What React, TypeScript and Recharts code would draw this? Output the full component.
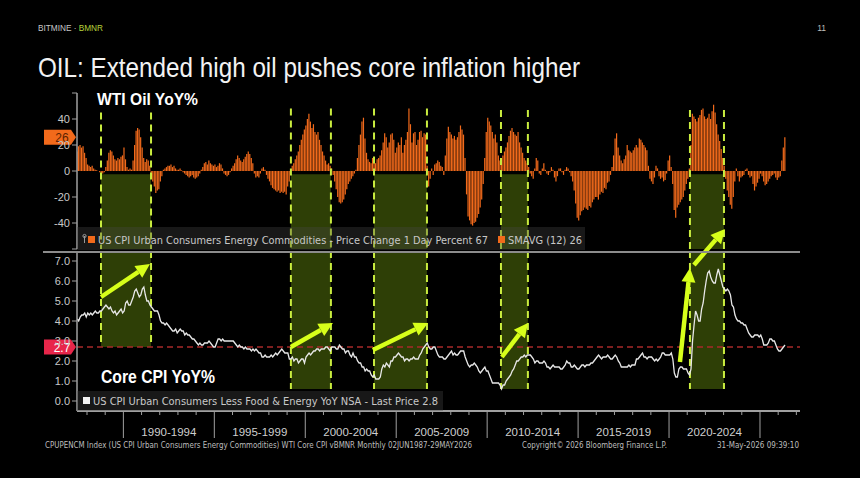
import React from 'react'
import {
  ComposedChart, Bar, Line, XAxis, YAxis, ReferenceArea, ReferenceLine,
} from 'recharts'

// Monthly data, Jun 1987 .. May 2026
const START_YEAR = 1987
const START_MONTH = 6

// US CPI Energy Commodities YoY % (orange bars)
const OIL_YOY = [
  15, 19, 20, 18, 19, 14, 10, // 1987 (Jun-Dec)
  5, 4, 3, 4, 2, 1, 0.5, 0, -1, -2, -2, -1, // 1988
  3, 8, 14, 16, 15, 12, 9, 8, 10, 9, 11, 12, // 1989
  18, 9, 3, 1, 2, 1, 8, 20, 31, 33, 32, 26, // 1990
  18, 10, 7, 9, 8, 4, -3, -8, -12, -17, -15, -14, // 1991
  -8, -4, 1, 2, 3, 4, 4, 5, 3, 4, 2, 1, // 1992
  1, 2, 0.5, -1, -2, -3, -4, -5, -4, -3, -5, -6, // 1993
  -5, -4, -2, 1, 3, 6, 7, 5, 8, 6, 5, 4, // 1994
  5, 3, 4, 6, 5, 2, -2, -3, -4, -3, -1, 2, // 1995
  4, 6, 9, 12, 10, 8, 7, 9, 11, 13, 15, 13, // 1996
  10, 6, -2, -5, -4, -5, -2, 2, 3, 1, -3, -6, // 1997
  -8, -11, -13, -14, -15, -16, -15, -17, -16, -17, -16, -18, // 1998
  -12, -8, 0, 4, 6, 9, 12, 15, 20, 24, 28, 32, // 1999
  35, 40, 44, 38, 33, 36, 30, 28, 30, 24, 20, 15, // 2000
  12, 8, 5, 6, 4, 2, -3, -8, -14, -20, -24, -25, // 2001
  -24, -22, -18, -14, -10, -8, -6, -4, -2, 1, 10, 20, // 2002
  28, 38, 41, 25, 14, 9, 7, 6, 10, 8, 6, 9, // 2003
  10, 12, 16, 22, 29, 26, 18, 22, 28, 29, 24, 14, // 2004
  18, 22, 20, 26, 14, 20, 24, 30, 48, 36, 22, 29, // 2005
  30, 20, 24, 30, 31, 26, 29, 28, 4, -12, -6, 2, // 2006
  -3, 5, 6, 8, 7, 4, 3, -3, 12, 25, 34, 30, // 2007
  28, 25, 27, 24, 26, 30, 35, 32, 28, 10, -18, -35, // 2008
  -38, -41, -42, -40, -39, -36, -33, -28, -22, -10, 10, 30, // 2009
  41, 38, 35, 30, 25, 28, 22, 12, 8, 10, 12, 15, // 2010
  18, 22, 27, 31, 33, 30, 28, 27, 30, 22, 18, 14, // 2011
  10, 8, 6, 3, -2, -4, -6, 2, 10, 8, -2, -3, // 2012
  2, 6, 1, -2, -3, -1, 3, 1, -5, -8, -4, 2, // 2013
  2, -1, -3, 1, 3, 2, -1, -4, -8, -15, -25, -36, // 2014
  -38, -34, -31, -30, -28, -29, -30, -27, -28, -24, -22, -20, // 2015
  -20, -22, -18, -16, -17, -13, -14, -9, -8, -3, 3, 12, // 2016
  25, 29, 18, 12, 8, 6, 9, 12, 20, 16, 15, 14, // 2017
  16, 18, 20, 18, 25, 24, 22, 20, 18, 16, 4, -6, // 2018
  -8, -10, -5, 4, 2, -4, -6, -5, -8, -7, -2, 8, // 2019
  12, 3, -10, -30, -36, -28, -26, -24, -22, -20, -15, -10, // 2020
  -6, 2, 20, 44, 42, 40, 38, 41, 43, 47, 48, 42, // 2021
  40, 41, 44, 40, 46, 51, 45, 36, 28, 23, 17, 10, // 2022
  4, -6, -15, -20, -26, -29, -20, -8, 2, -4, -8, -5, // 2023
  -4, -3, 1, 2, -3, -5, -4, -10, -15, -12, -9, -6, // 2024
  -2, -4, -8, -11, -10, -8, -6, -4, -3, -2, -5, -7, // 2025
  -5, -4, 8, 18, 26, // 2026 (Jan-May)
]

// US CPI Less Food & Energy YoY % (white line)
const CORE_CPI = [
  4.1, 4.0, 4.2, 4.3, 4.3, 4.4, 4.2, // 1987
  4.4, 4.3, 4.4, 4.3, 4.4, 4.5, 4.4, 4.4, 4.5, 4.5, 4.6, 4.7, // 1988
  4.8, 4.7, 4.6, 4.7, 4.5, 4.4, 4.5, 4.3, 4.4, 4.5, 4.6, 4.4, // 1989
  4.5, 4.9, 5.0, 4.8, 4.8, 5.0, 5.2, 5.5, 5.6, 5.4, 5.2, 5.3, // 1990
  5.6, 5.7, 5.3, 5.0, 5.0, 4.8, 4.7, 4.6, 4.5, 4.5, 4.5, 4.3, // 1991
  4.0, 3.9, 3.9, 3.8, 3.9, 3.8, 3.7, 3.6, 3.5, 3.5, 3.6, 3.4, // 1992
  3.5, 3.6, 3.5, 3.5, 3.3, 3.4, 3.3, 3.3, 3.2, 3.1, 3.1, 3.0, // 1993
  2.9, 2.8, 2.9, 2.8, 2.8, 2.9, 2.9, 2.9, 3.0, 2.9, 2.8, 2.7, // 1994
  2.7, 2.9, 3.1, 3.1, 3.0, 3.1, 3.0, 3.0, 3.0, 3.0, 3.0, 3.0, // 1995
  3.0, 2.9, 2.8, 2.7, 2.8, 2.7, 2.7, 2.6, 2.7, 2.6, 2.6, 2.6, // 1996
  2.5, 2.6, 2.5, 2.6, 2.5, 2.4, 2.4, 2.2, 2.2, 2.3, 2.2, 2.2, // 1997
  2.2, 2.3, 2.2, 2.3, 2.4, 2.3, 2.4, 2.5, 2.6, 2.5, 2.4, 2.4, // 1998
  2.4, 2.1, 2.1, 2.2, 2.0, 2.1, 2.1, 1.9, 2.0, 2.1, 2.1, 1.9, // 1999
  2.2, 2.3, 2.4, 2.3, 2.4, 2.5, 2.5, 2.6, 2.6, 2.5, 2.6, 2.6, // 2000
  2.6, 2.7, 2.7, 2.6, 2.5, 2.7, 2.7, 2.7, 2.6, 2.6, 2.8, 2.7, // 2001
  2.6, 2.6, 2.4, 2.5, 2.5, 2.3, 2.2, 2.4, 2.2, 2.2, 2.0, 1.9, // 2002
  1.9, 1.7, 1.7, 1.5, 1.6, 1.5, 1.5, 1.3, 1.2, 1.3, 1.1, 1.1, // 2003
  1.1, 1.2, 1.6, 1.8, 1.7, 1.9, 1.8, 1.7, 2.0, 2.0, 2.2, 2.2, // 2004
  2.3, 2.4, 2.3, 2.2, 2.2, 2.0, 2.1, 2.1, 2.0, 2.1, 2.1, 2.2, // 2005
  2.1, 2.1, 2.1, 2.3, 2.4, 2.6, 2.7, 2.8, 2.9, 2.7, 2.6, 2.6, // 2006
  2.7, 2.7, 2.5, 2.3, 2.2, 2.2, 2.2, 2.1, 2.1, 2.2, 2.3, 2.4, // 2007
  2.5, 2.3, 2.4, 2.3, 2.3, 2.4, 2.5, 2.5, 2.5, 2.2, 2.0, 1.8, // 2008
  1.7, 1.8, 1.8, 1.9, 1.8, 1.7, 1.5, 1.4, 1.5, 1.6, 1.7, 1.5, // 2009
  1.5, 1.3, 1.1, 0.9, 0.9, 0.9, 0.9, 0.9, 0.8, 0.6, 0.8, 0.8, // 2010
  1.0, 1.1, 1.2, 1.3, 1.5, 1.6, 1.8, 2.0, 2.0, 2.1, 2.2, 2.2, // 2011
  2.3, 2.2, 2.3, 2.3, 2.3, 2.2, 2.1, 1.9, 2.0, 2.0, 1.9, 1.9, // 2012
  1.9, 2.0, 1.9, 1.7, 1.7, 1.6, 1.7, 1.8, 1.7, 1.7, 1.7, 1.7, // 2013
  1.6, 1.6, 1.7, 1.8, 2.0, 1.9, 1.9, 1.7, 1.7, 1.8, 1.7, 1.6, // 2014
  1.6, 1.7, 1.8, 1.8, 1.7, 1.8, 1.8, 1.8, 1.9, 1.9, 2.0, 2.1, // 2015
  2.2, 2.3, 2.2, 2.1, 2.2, 2.2, 2.2, 2.3, 2.2, 2.1, 2.1, 2.2, // 2016
  2.3, 2.2, 2.0, 1.9, 1.7, 1.7, 1.7, 1.7, 1.7, 1.8, 1.7, 1.8, // 2017
  1.8, 1.8, 2.1, 2.1, 2.2, 2.3, 2.4, 2.2, 2.2, 2.1, 2.2, 2.2, // 2018
  2.2, 2.1, 2.0, 2.1, 2.0, 2.1, 2.2, 2.4, 2.4, 2.3, 2.3, 2.3, // 2019
  2.3, 2.4, 2.1, 1.4, 1.2, 1.2, 1.6, 1.7, 1.7, 1.6, 1.6, 1.6, // 2020
  1.4, 1.3, 1.6, 3.0, 3.8, 4.5, 4.3, 4.0, 4.0, 4.6, 4.9, 5.5, // 2021
  6.0, 6.4, 6.5, 6.2, 6.0, 5.9, 5.9, 6.3, 6.6, 6.3, 6.0, 5.7, // 2022
  5.6, 5.5, 5.6, 5.5, 5.3, 4.8, 4.7, 4.3, 4.1, 4.0, 4.0, 3.9, // 2023
  3.9, 3.8, 3.8, 3.6, 3.4, 3.3, 3.2, 3.2, 3.3, 3.3, 3.3, 3.2, // 2024
  3.3, 3.1, 2.8, 2.8, 2.8, 2.9, 3.1, 3.1, 3.0, 3.0, 2.8, 2.6, // 2025
  2.5, 2.5, 2.6, 2.7, 2.8, // 2026
]

const PERIOD_LABELS = ['1990-1994', '1995-1999', '2000-2004', '2005-2009', '2010-2014', '2015-2019', '2020-2024']
const OIL_TICKS = [-60, -40, -20, 0, 20, 40, 60]
const CPI_TICKS = [0, 1, 2, 3, 4, 5, 6, 7]

// highlighted periods (fractional years) and how far their boxes reach
const HL_START = [1988.77, 1999.21, 2003.78, 2010.76, 2021.15]
const HL_END = [1991.52, 2001.41, 2006.69, 2012.24, 2023.02]
const HL_OIL_TOP = [45, 48, 48, 47, 47]
const HL_CPI_FLOOR = [2.7, 0.6, 0.6, 0.6, 0.6]

// arrows [fromYear, fromVal, toYear, toVal] on the core CPI scale
const ARROWS = [
  [1988.77, 5.2, 1991.46, 6.85],
  [1999.21, 2.7, 2001.52, 3.9],
  [2003.72, 2.55, 2006.75, 3.9],
  [2010.81, 2.2, 2012.24, 3.9],
  [2020.6, 1.95, 2021.15, 6.65],
  [2021.37, 6.8, 2023.07, 8.6],
]

const X_DOMAIN: [number, number] = [1987.45, 2027.2]
const YEAR_TICKS = Array.from({ length: 40 }, (_, i) => 1988 + i)
const PERIOD_MIDS = PERIOD_LABELS.map(l => Number(l.slice(0, 4)) + 2.5)

const data = OIL_YOY.map((oil, i) => ({
  t: START_YEAR + (START_MONTH - 1 + i + 0.5) / 12,
  oil,
  cpi: CORE_CPI[i],
}))

const ORANGE = '#f26a1b'
const GREEN_FILL = '#2e3f06'
const DASH = '#c9ec3f'
const ARROW = '#d7ff1a'
const AXIS = '#a0a0a0'
const TICK_TXT = { fontSize: 11, fill: '#c8c8c8', fontFamily: 'Liberation Sans, Arial' }
const MONO = 'DejaVu Sans, Verdana, sans-serif'

const XTick = (props: any) => {
  const { x, y, payload } = props
  const v = payload.value as number
  if (Number.isInteger(v)) {
    return <line x1={x} y1={y} x2={x} y2={y + (v % 5 === 0 ? 27 : 4)} stroke={AXIS} strokeWidth={1} />
  }
  const label = PERIOD_LABELS[PERIOD_MIDS.indexOf(v)]
  return (
    <text x={x} y={y + 25} textAnchor="middle" fontSize={11.5} fill="#cfcfcf" fontFamily="Liberation Sans, Arial">
      {label}
    </text>
  )
}

const makeTag = (text: string, fill: string, color: string) => (props: any) => {
  const { x, y } = props.viewBox
  return (
    <g>
      <polygon
        points={`${x - 33},${y - 7.5} ${x - 6},${y - 7.5} ${x - 1},${y} ${x - 6},${y + 7.5} ${x - 33},${y + 7.5}`}
        fill={fill}
      />
      <text x={x - 15} y={y + 4.5} textAnchor="middle" fontSize={12} fill={color} fontFamily="Liberation Sans, Arial">
        {text}
      </text>
    </g>
  )
}

const arrowShape = (p: any) => {
  const { x1, y1, x2, y2 } = p
  const a = Math.atan2(y2 - y1, x2 - x1)
  const L = 14, W = 7
  const bx = x2 - L * Math.cos(a)
  const by = y2 - L * Math.sin(a)
  const pts = `${x2},${y2} ${bx - W * Math.sin(a)},${by + W * Math.cos(a)} ${bx + W * Math.sin(a)},${by - W * Math.cos(a)}`
  return (
    <g>
      <line x1={x1} y1={y1} x2={bx} y2={by} stroke={ARROW} strokeWidth={4.5} />
      <polygon points={pts} fill={ARROW} />
    </g>
  )
}

function OilPanel() {
  return (
    <ComposedChart width={820} height={166} data={data} margin={{ top: 5, right: 20, bottom: 5, left: 0 }}>
      <XAxis type="number" dataKey="t" domain={X_DOMAIN} allowDataOverflow hide />
      <YAxis
        domain={[-60, 60]}
        ticks={OIL_TICKS}
        width={77}
        tick={TICK_TXT}
        tickFormatter={(v: number) => (Math.abs(v) === 60 ? '' : String(v))}
        tickSize={5}
        tickMargin={2}
        axisLine={{ stroke: AXIS, strokeWidth: 1.5 }}
        tickLine={{ stroke: AXIS }}
      />
      {HL_START.map((s, i) => (
        <ReferenceArea key={'a' + i} x1={s} x2={HL_END[i]} y1={-60} y2={-2.5} fill={GREEN_FILL} fillOpacity={1} stroke="none" ifOverflow="hidden" />
      ))}
      <Bar dataKey="oil" fill={ORANGE} barSize={1.2} isAnimationActive={false} />
      {HL_START.flatMap((s, i) => [s, HL_END[i]].map((xv, j) => (
        <ReferenceLine
          key={'d' + i + j}
          segment={[{ x: xv, y: HL_OIL_TOP[i] }, { x: xv, y: -60 }]}
          stroke={DASH}
          strokeWidth={2}
          strokeDasharray="7 5"
          ifOverflow="visible"
        />
      )))}
      <ReferenceLine y={26} stroke="none" label={makeTag('26', ORANGE, '#5a2200')} />
    </ComposedChart>
  )
}

function CpiPanel() {
  return (
    <ComposedChart width={820} height={278} data={data} margin={{ top: 51, right: 20, bottom: 0, left: 0 }}>
      <XAxis
        type="number"
        dataKey="t"
        domain={X_DOMAIN}
        allowDataOverflow
        ticks={[...YEAR_TICKS, ...PERIOD_MIDS].sort((a, b) => a - b)}
        interval={0}
        tick={<XTick />}
        tickLine={false}
        tickSize={0}
        tickMargin={0}
        height={67}
        axisLine={{ stroke: AXIS, strokeWidth: 2 }}
      />
      <YAxis
        domain={[-0.5, 7.5]}
        ticks={CPI_TICKS}
        width={77}
        tick={TICK_TXT}
        tickFormatter={(v: number) => v.toFixed(1)}
        tickSize={5}
        tickMargin={2}
        axisLine={{ stroke: AXIS, strokeWidth: 1.5 }}
        tickLine={{ stroke: AXIS }}
      />
      {HL_START.map((s, i) => (
        <ReferenceArea key={'a' + i} x1={s} x2={HL_END[i]} y1={HL_CPI_FLOOR[i]} y2={7.5} fill={GREEN_FILL} fillOpacity={1} stroke="none" ifOverflow="hidden" />
      ))}
      <ReferenceLine y={2.7} stroke="#a82a2a" strokeWidth={1.5} strokeDasharray="6 4" label={makeTag('2.7', '#e8264a', '#ffffff')} />
      {HL_START.flatMap((s, i) => [s, HL_END[i]].map((xv, j) => (
        <ReferenceLine
          key={'d' + i + j}
          segment={[{ x: xv, y: 7.5 }, { x: xv, y: HL_CPI_FLOOR[i] }]}
          stroke={DASH}
          strokeWidth={2}
          strokeDasharray="7 5"
          ifOverflow="visible"
        />
      )))}
      <Line type="linear" dataKey="cpi" stroke="#e8e8e8" strokeWidth={1.3} dot={false} isAnimationActive={false} />
      {ARROWS.map((a, i) => (
        <ReferenceLine
          key={'r' + i}
          segment={[{ x: a[0], y: a[1] }, { x: a[2], y: a[3] }]}
          ifOverflow="visible"
          shape={arrowShape}
        />
      ))}
    </ComposedChart>
  )
}

export default function App() {
  return (
    <div style={{ position: 'relative', width: 860, height: 478, background: '#000', overflow: 'hidden' }}>
      <style>{'body{margin:0;background:#000}'}</style>
      <div style={{ position: 'absolute', left: 0, top: 88 }}>
        <OilPanel />
      </div>
      <div style={{ position: 'absolute', left: 0, top: 200 }}>
        <CpiPanel />
      </div>
      <svg width={860} height={478} style={{ position: 'absolute', left: 0, top: 0, pointerEvents: 'none' }}>
        <text x={38} y={31} fontSize={8.5} fill="#c8c8c8" fontFamily="Liberation Sans, Arial" textLength={65} lengthAdjust="spacingAndGlyphs">
          BITMINE · <tspan fill="#b5d43a">BMNR</tspan>
        </text>
        <text x={826} y={31} textAnchor="end" fontSize={8.5} fill="#bdbdbd" fontFamily="Liberation Sans, Arial">11</text>
        <text x={38} y={77} fontSize={27.5} fill="#f2f2f2" fontFamily="Liberation Sans, Arial" textLength={542} lengthAdjust="spacingAndGlyphs">
          OIL: Extended high oil pushes core inflation higher
        </text>

        <text x={97} y={105} fontSize={17} fontWeight="bold" fill="#ffffff" fontFamily="Liberation Sans, Arial" textLength={101} lengthAdjust="spacingAndGlyphs">
          WTI Oil YoY%
        </text>

        <rect x={77} y={227} width={508} height={23} fill="rgba(70,70,70,0.35)" />
        <line x1={84.5} y1={236} x2={84.5} y2={243} stroke="#9a9a9a" strokeWidth={1} />
        <circle cx={84.5} cy={236} r={1.6} fill="none" stroke="#9a9a9a" strokeWidth={1} />
        <rect x={88} y={236} width={7} height={7} fill={ORANGE} />
        <text x={98} y={243.5} fontSize={11} fill="#c8c8c8" fontFamily={MONO} textLength={390} lengthAdjust="spacingAndGlyphs">
          US CPI Urban Consumers Energy Commodities - Price Change 1 Day Percent 67
        </text>
        <rect x={498} y={236} width={7} height={7} fill={ORANGE} />
        <text x={508} y={243.5} fontSize={11} fill="#c8c8c8" fontFamily={MONO} textLength={74} lengthAdjust="spacingAndGlyphs">
          SMAVG (12) 26
        </text>

        <line x1={43} y1={252} x2={800} y2={252} stroke="#8c8c8c" strokeWidth={2} />

        <text x={101} y={383} fontSize={18.5} fontWeight="bold" fill="#ffffff" fontFamily="Liberation Sans, Arial" textLength={114} lengthAdjust="spacingAndGlyphs">
          Core CPI YoY%
        </text>

        <rect x={77} y={391} width={366} height={20} fill="rgba(70,70,70,0.35)" />
        <rect x={83} y={397} width={7} height={7} fill="#f2f2f2" />
        <text x={93} y={405} fontSize={11} fill="#c8c8c8" fontFamily={MONO} textLength={345} lengthAdjust="spacingAndGlyphs">
          US CPI Urban Consumers Less Food &amp; Energy YoY NSA - Last Price 2.8
        </text>

        <text x={45} y={448} fontSize={8.5} fill="#bdbdbd" fontFamily={MONO} textLength={427} lengthAdjust="spacingAndGlyphs">
          CPUPENCM Index (US CPI Urban Consumers Energy Commodities) WTI Core CPI vBMNR Monthly 02JUN1987-29MAY2026
        </text>
        <text x={522} y={448} fontSize={8.5} fill="#bdbdbd" fontFamily={MONO} textLength={145} lengthAdjust="spacingAndGlyphs">
          Copyright© 2026 Bloomberg Finance L.P.
        </text>
        <text x={717} y={448} fontSize={8.5} fill="#bdbdbd" fontFamily={MONO} textLength={82} lengthAdjust="spacingAndGlyphs">
          31-May-2026 09:39:10
        </text>
      </svg>
    </div>
  )
}
